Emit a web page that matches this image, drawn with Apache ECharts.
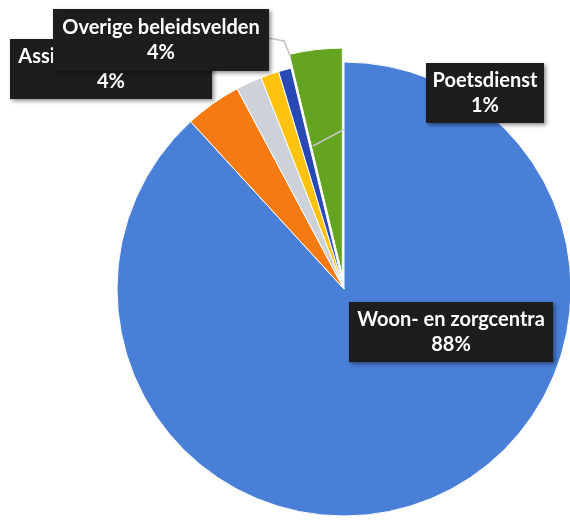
<!DOCTYPE html>
<html>
<head>
<meta charset="utf-8">
<script src="https://cdn.jsdelivr.net/npm/echarts@6/dist/echarts.min.js"></script>
<style>
html,body{margin:0;padding:0;background:#fff;}
#chart{width:570px;height:520px;}
</style>
</head>
<body>
<div id="chart"></div>
<script>
// Data (clockwise from 12 o'clock)
var categories = ['Woon- en zorgcentra', 'Assistentiewoningen', 'Onbenoemd 1', 'Onbenoemd 2', 'Poetsdienst', 'Overige beleidsvelden'];
var values = [88.2, 4.0, 1.85, 1.3, 0.9, 3.75];
var showLabel = [true, true, false, false, true, true];
var exploded = [false, false, false, false, false, true];

// Styling (not data)
var colors = ['#4a7fd8', '#f57a12', '#cdd1d8', '#ffc20e', '#2848b6', '#64a420'];
var boxCenters = [[451, 332], [111, 69], null, null, [485, 93], [161, 40]];
var boxSizes = [[204, 60], [202, 60], null, null, [118, 60], [216, 62]];
var linePoints = [null, null, null, null, [[425, 86], [313, 146]], [[268, 38], [284, 41], [291, 58]]];
var pieCenter = [344, 289];
var pieRadius = 227;
var explodeOffset = 14;

var total = values.reduce(function (a, b) { return a + b; }, 0);

// offset of the exploded slice along its bisector
function explodeShift(idx) {
  var before = 0;
  for (var k = 0; k < idx; k++) before += values[k];
  var mid = (before + values[idx] / 2) / total * 2 * Math.PI; // clockwise from top
  return [Math.sin(mid) * explodeOffset, -Math.cos(mid) * explodeOffset];
}
var exIdx = exploded.indexOf(true);
var shift = explodeShift(exIdx);

var chart = echarts.init(document.getElementById('chart'), null, {renderer: 'canvas'});

var mainData = categories.map(function (name, i) {
  var item = {
    name: name,
    value: values[i],
    itemStyle: exploded[i]
      ? {color: 'rgba(0,0,0,0)', borderWidth: 0}
      : {color: colors[i]}
  };
  if (!showLabel[i]) {
    item.label = {show: false};
    item.labelLine = {show: false};
  } else {
    item.label = {
      width: boxSizes[i][0] - 12,
      height: boxSizes[i][1] - 10
    };
    if (!linePoints[i]) item.labelLine = {show: false};
  }
  return item;
});

var explodedData = categories.map(function (name, i) {
  return {
    name: name,
    value: values[i],
    itemStyle: exploded[i] ? {color: colors[i]} : {color: 'rgba(0,0,0,0)', borderWidth: 0}
  };
});

chart.setOption({
  backgroundColor: '#ffffff',
  animation: false,
  series: [{
    type: 'pie',
    z: 2,
    center: pieCenter,
    radius: [0, pieRadius],
    startAngle: 90,
    clockwise: true,
    avoidLabelOverlap: false,
    emphasis: {disabled: true},
    itemStyle: {borderColor: '#ffffff', borderWidth: 1},
    label: {
      show: true,
      position: 'outside',
      overflow: 'none',
      formatter: function (p) { return p.name + '\n' + Math.round(p.percent) + '%'; },
      color: '#ffffff',
      fontFamily: 'Lato',
      fontWeight: 'bold',
      fontSize: 20,
      lineHeight: 25,
      align: 'center',
      backgroundColor: '#1d1d1d',
      padding: [5, 6],
      shadowColor: 'rgba(0,0,0,0.45)',
      shadowBlur: 4,
      shadowOffsetX: 2,
      shadowOffsetY: 2
    },
    labelLine: {
      show: true,
      lineStyle: {color: '#c4c4c4', width: 1.5}
    },
    labelLayout: function (params) {
      var i = params.dataIndex;
      if (!boxCenters[i]) return {};
      var r = {
        x: boxCenters[i][0],
        y: boxCenters[i][1],
        align: 'center',
        verticalAlign: 'middle'
      };
      if (linePoints[i]) r.labelLinePoints = linePoints[i];
      return r;
    },
    data: mainData
  }, {
    type: 'pie',
    z: 1,
    center: [pieCenter[0] + shift[0], pieCenter[1] + shift[1]],
    radius: [0, pieRadius],
    startAngle: 90,
    clockwise: true,
    silent: true,
    emphasis: {disabled: true},
    itemStyle: {borderColor: '#ffffff', borderWidth: 1},
    label: {show: false},
    labelLine: {show: false},
    data: explodedData
  }]
});
</script>
</body>
</html>
